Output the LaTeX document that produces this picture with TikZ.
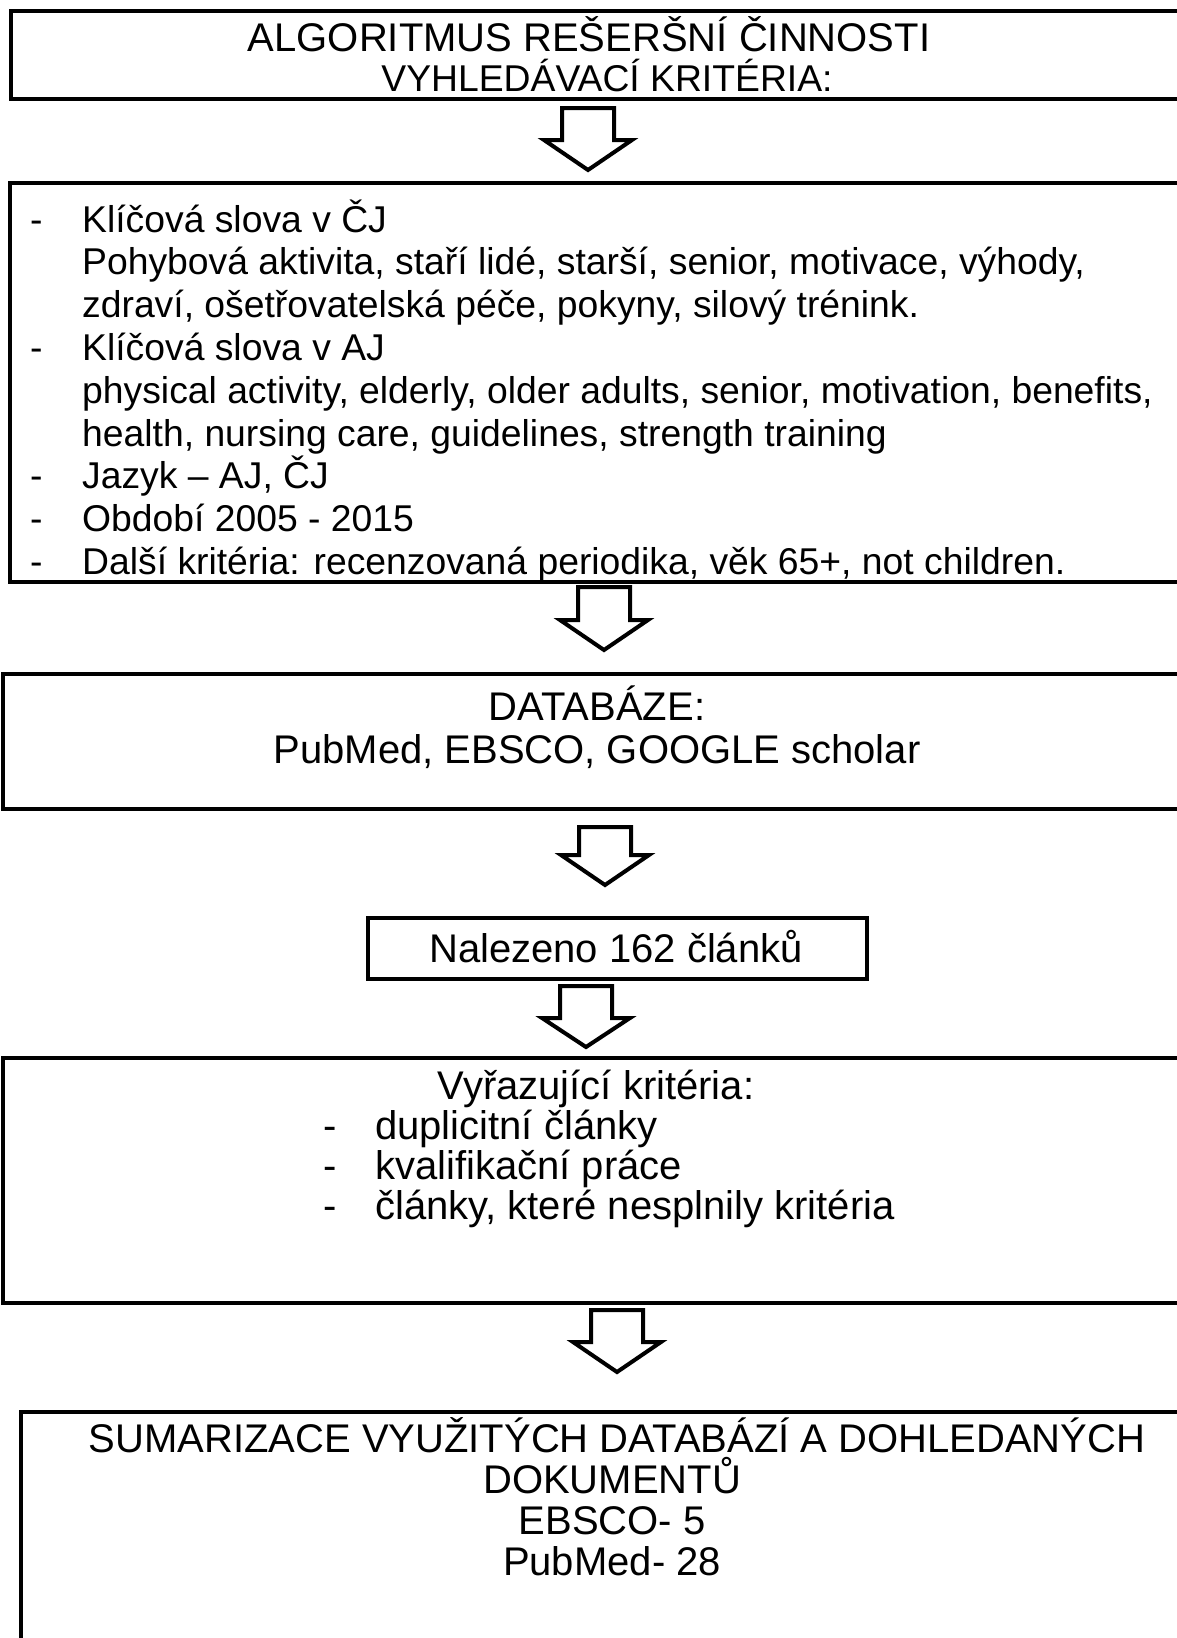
\documentclass[tikz,border=0pt]{standalone}
\usepackage{fontspec}
\setmainfont{Liberation Sans}
\begin{document}
\begin{tikzpicture}[x=1pt,y=-1pt,
  box/.style={draw, line width=4pt, inner sep=0pt, outer sep=0pt, anchor=north west},
  big/.style={font=\fontsize{40}{46}\selectfont, inner sep=0pt, anchor=base},
  mid/.style={font=\fontsize{37.3}{42.8}\selectfont, inner sep=0pt, anchor=base},
  bigl/.style={font=\fontsize{40}{46}\selectfont, inner sep=0pt, anchor=base west},
  small/.style={font=\fontsize{37.3}{42.8}\selectfont, inner sep=0pt, anchor=base west},
  blockarrow/.style={draw, line width=4pt, fill=white, line join=miter}]
\useasboundingbox (0,0) rectangle (1177,1638);
\clip (0,0) rectangle (1177,1638);
\fill[white] (0,0) rectangle (1177,1638);

% boxes
\node[box, minimum width=1179pt, minimum height=88pt] (b1) at (11,11) {};
\node[box, minimum width=1180pt, minimum height=399pt] (b2) at (10,183) {};
\node[box, minimum width=1187pt, minimum height=135pt] (b3) at (3,674) {};
\node[box, minimum width=499pt, minimum height=61pt] (b4) at (368,918) {};
\node[box, minimum width=1187pt, minimum height=245pt] (b5) at (3,1058) {};
\node[box, minimum width=1169pt, minimum height=300pt] (b6) at (21,1412) {};

% block arrows
\newcommand\blkarrow[4]{\draw[blockarrow] (#1-26,#2) -- (#1+26,#2) -- (#1+26,#3) -- (#1+44,#3) -- (#1,#4) -- (#1-44,#3) -- (#1-26,#3) -- cycle;}
\blkarrow{588}{108}{140}{170}
\blkarrow{604}{587}{620}{650}
\blkarrow{605}{827}{855}{885}
\blkarrow{586}{986}{1018}{1047}
\blkarrow{617}{1310}{1342}{1372}

% box 1
\node[big] (t11) at (589,51) {ALGORITMUS REŠERŠNÍ ČINNOSTI};
\node[mid] (t12) at (607,91) {VYHLEDÁVACÍ KRITÉRIA:};

% box 2
\node[small] (d21) at (30,232) {-};
\node[small] (t21) at (82,232) {Klíčová slova v ČJ};
\node[small] (t22) at (82,274.8) {Pohybová aktivita, staří lidé, starší, senior, motivace, výhody,};
\node[small] (t23) at (82,317.6) {zdraví, ošetřovatelská péče, pokyny, silový trénink.};
\node[small] (d24) at (30,360.4) {-};
\node[small] (t24) at (82,360.4) {Klíčová slova v AJ};
\node[small] (t25) at (82,403.2) {physical activity, elderly, older adults, senior, motivation, benefits,};
\node[small] (t26) at (82,446) {health, nursing care, guidelines, strength training};
\node[small] (d27) at (30,488.8) {-};
\node[small] (t27) at (82,488.8) {Jazyk – AJ, ČJ};
\node[small] (d28) at (30,531.6) {-};
\node[small] (t28) at (82,531.6) {Období 2005 - 2015};
\node[small] (d29) at (30,574.4) {-};
\node[small] (t29) at (82,574.4) {Další kritéria: recenzovaná periodika, věk 65+, not children.};

% box 3
\node[big] (t31) at (597,720) {DATABÁZE:};
\node[big] (t32) at (597,763) {PubMed, EBSCO, GOOGLE scholar};

% box 4
\node[big] (t41) at (616,962) {Nalezeno 162 článků};

% box 5
\node[big] (t51) at (596,1099) {Vyřazující kritéria:};
\node[bigl] (d52) at (323,1139) {-};
\node[bigl] (t52) at (375,1139) {duplicitní články};
\node[bigl] (d53) at (323,1179) {-};
\node[bigl] (t53) at (375,1179) {kvalifikační práce};
\node[bigl] (d54) at (323,1219) {-};
\node[bigl] (t54) at (375,1219) {články, které nesplnily kritéria};

% box 6
\node[big] (t61) at (617,1452) {SUMARIZACE VYUŽITÝCH DATABÁZÍ A DOHLEDANÝCH};
\node[big] (t62) at (612,1493) {DOKUMENTŮ};
\node[big] (t63) at (612,1534) {EBSCO- 5};
\node[big] (t64) at (612,1575) {PubMed- 28};
\end{tikzpicture}
\end{document}
